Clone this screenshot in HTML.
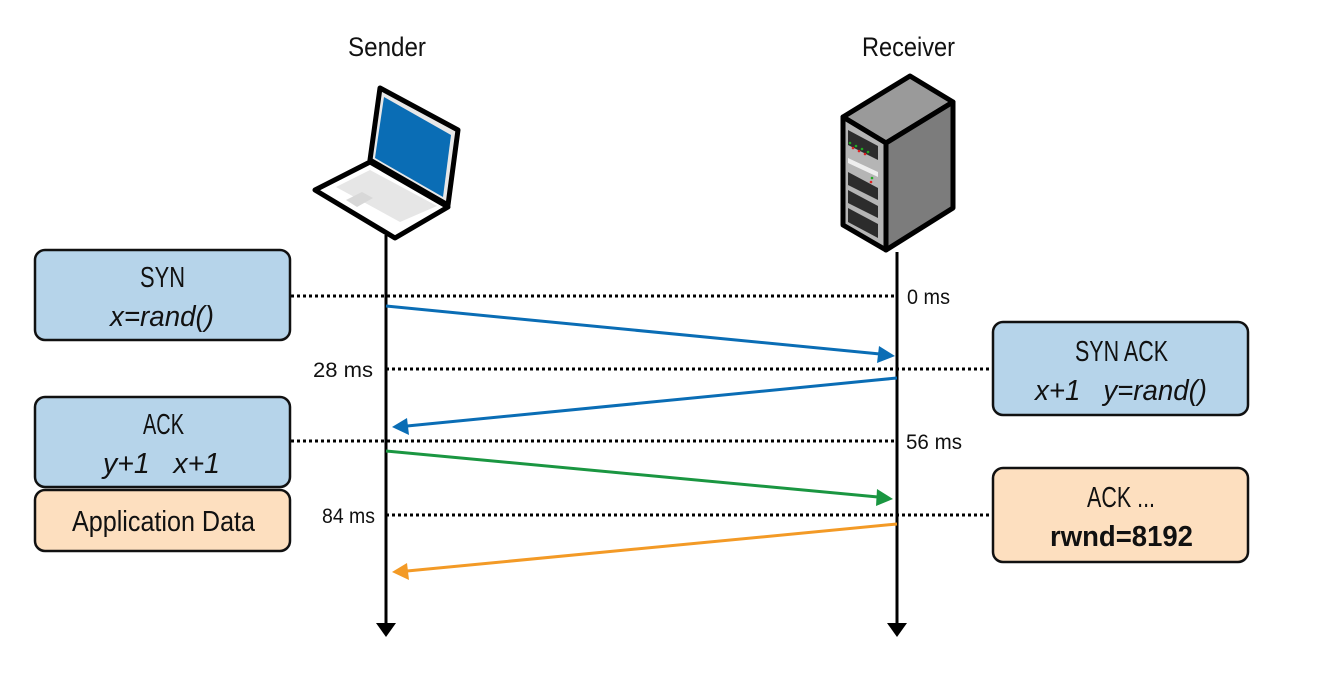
<!DOCTYPE html>
<html><head><meta charset="utf-8"><style>
body{margin:0;background:#fff;}
svg text{font-family:"Liberation Sans Narrow","Liberation Sans",sans-serif;}
</style></head><body>
<svg width="1328" height="672" viewBox="0 0 1328 672" xmlns="http://www.w3.org/2000/svg">
<text x="348" y="56" font-size="27" textLength="78" lengthAdjust="spacingAndGlyphs" fill="#111">Sender</text>
<text x="862" y="56" font-size="27" textLength="93" lengthAdjust="spacingAndGlyphs" fill="#111">Receiver</text>

<!-- laptop -->
<g stroke="#000" stroke-width="5" stroke-linejoin="round">
<path d="M380,88 L458,130 L448,205 L370,160 Z" fill="#e8e8e8"/>
<path d="M315,190 L370,162 L448,207 L395,238 Z" fill="#fff"/>
</g>
<path d="M384,97 L451,135 L443,197 L375,158 Z" fill="#0a6db5"/>
<path d="M336,187 L370,170 L437,206 L400,222 Z" fill="#e6e6e6"/>
<path d="M346,200 L362,192 L373,198 L357,207 Z" fill="#d8d8d8"/>

<!-- server -->
<g stroke="#000" stroke-width="5" stroke-linejoin="round">
<path d="M843,117 L910,76 L953,102 L886,143 Z" fill="#9a9a9a"/>
<path d="M886,143 L953,102 L953,208 L886,250 Z" fill="#7c7c7c"/>
<path d="M843,117 L886,143 L886,250 L843,225 Z" fill="#b5b5b5"/>
</g>
<g fill="#2c2c2c">
<path d="M848,130 L878,146 L878,160 L848,145 Z"/>
<path d="M848,172 L878,188 L878,200 L848,185 Z"/>
<path d="M848,190 L878,206 L878,218 L848,203 Z"/>
<path d="M848,208 L878,224 L878,238 L848,222 Z"/>
</g>
<path d="M848,158 L878,172 L878,177 L848,163 Z" fill="#eee"/>
<g fill="#2a2"><circle cx="850" cy="143" r="1.3"/><circle cx="856" cy="146" r="1.3"/><circle cx="862" cy="149" r="1.3"/><circle cx="868" cy="152" r="1.3"/><circle cx="872" cy="178" r="1.3"/></g>
<g fill="#d22"><circle cx="853" cy="148" r="1.3"/><circle cx="859" cy="151" r="1.3"/><circle cx="865" cy="154" r="1.3"/><circle cx="871" cy="182" r="1.3"/></g>

<!-- timelines -->
<line x1="386" y1="235" x2="386" y2="624" stroke="#000" stroke-width="3"/>
<path d="M376,623 L396,623 L386,637 Z" fill="#000"/>
<line x1="897" y1="252" x2="897" y2="624" stroke="#000" stroke-width="3"/>
<path d="M887,623 L907,623 L897,637 Z" fill="#000"/>

<!-- dotted -->
<g stroke="#000" stroke-width="3" stroke-dasharray="3,3">
<line x1="291" y1="296" x2="897" y2="296"/>
<line x1="386" y1="369" x2="993" y2="369"/>
<line x1="291" y1="441" x2="897" y2="441"/>
<line x1="386" y1="515" x2="993" y2="515"/>
</g>

<!-- arrows -->
<line x1="386" y1="306" x2="880" y2="354" stroke="#0a6db5" stroke-width="3"/>
<path d="M895,356 L879,346 L877,363 Z" fill="#0a6db5"/>
<line x1="897" y1="378" x2="407" y2="426" stroke="#0a6db5" stroke-width="3"/>
<path d="M392,427 L409,435 L407,418 Z" fill="#0a6db5"/>
<line x1="386" y1="451" x2="878" y2="497" stroke="#1a9641" stroke-width="3"/>
<path d="M893,499 L877,489 L876,506 Z" fill="#1a9641"/>
<line x1="897" y1="524" x2="407" y2="571" stroke="#f39a26" stroke-width="3"/>
<path d="M392,572 L409,580 L407,563 Z" fill="#f39a26"/>

<!-- time labels -->
<g font-size="21" fill="#111">
<text x="907" y="304" textLength="43" lengthAdjust="spacingAndGlyphs">0 ms</text>
<text x="313" y="377" textLength="60" lengthAdjust="spacingAndGlyphs">28 ms</text>
<text x="906" y="449" textLength="56" lengthAdjust="spacingAndGlyphs">56 ms</text>
<text x="322" y="523" textLength="53" lengthAdjust="spacingAndGlyphs">84 ms</text>
</g>

<!-- boxes -->
<g stroke="#111" stroke-width="2.5">
<rect x="35" y="250" width="255" height="90" rx="10" fill="#b6d4ea"/>
<rect x="993" y="322" width="255" height="93" rx="10" fill="#b6d4ea"/>
<rect x="35" y="397" width="255" height="90" rx="10" fill="#b6d4ea"/>
<rect x="35" y="490" width="255" height="61" rx="10" fill="#fddfbf"/>
<rect x="993" y="468" width="255" height="94" rx="10" fill="#fddfbf"/>
</g>
<g font-size="29" fill="#111" lengthAdjust="spacingAndGlyphs">
<text x="140" y="287" textLength="45" lengthAdjust="spacingAndGlyphs">SYN</text>
<text x="110" y="326" textLength="104" lengthAdjust="spacingAndGlyphs" font-style="italic">x=rand()</text>
<text x="1075" y="361" textLength="93" lengthAdjust="spacingAndGlyphs">SYN ACK</text>
<text x="1035" y="400" textLength="172" lengthAdjust="spacingAndGlyphs" font-style="italic">x+1&#160;&#160;&#160;y=rand()</text>
<text x="143" y="434" textLength="41" lengthAdjust="spacingAndGlyphs">ACK</text>
<text x="103" y="473" textLength="117" lengthAdjust="spacingAndGlyphs" font-style="italic">y+1&#160;&#160;&#160;x+1</text>
<text x="72" y="531" textLength="183" lengthAdjust="spacingAndGlyphs">Application Data</text>
<text x="1087" y="507" textLength="68" lengthAdjust="spacingAndGlyphs">ACK ...</text>
<text x="1050" y="546" textLength="143" lengthAdjust="spacingAndGlyphs" font-weight="bold">rwnd=8192</text>
</g>
</svg>
</body></html>
